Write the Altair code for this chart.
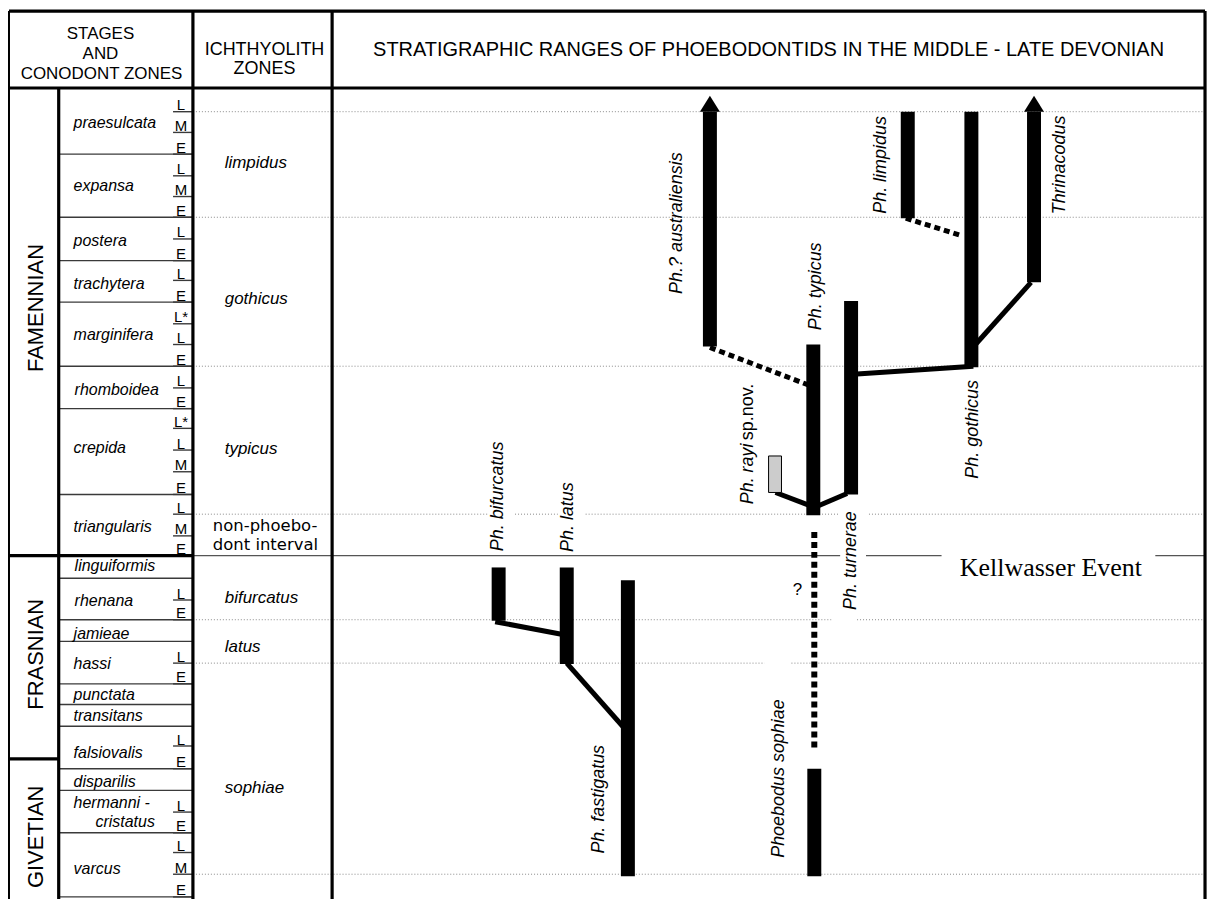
import altair as alt
import pandas as pd

SANS = "Liberation Sans"
SERIF = "Liberation Serif"

# ---------------- scales (stratigraphic level runs downward) ----------------
X_DOMAIN = [4, 1212]
Y_DOMAIN = [3, 905]
W, H = 1204, 892

# ---------------- header ----------------
header_text = ["STAGES", "AND", "CONODONT ZONES", "ICHTHYOLITH", "ZONES"]
header_col = [97, 97, 98, 262, 262]
header_level = [28, 49, 69, 44, 64]
title_text = ["STRATIGRAPHIC RANGES OF PHOEBODONTIDS IN THE MIDDLE - LATE DEVONIAN"]
title_col = [769]
title_level = [44]

# ---------------- stages ----------------
stage_names = ["FAMENNIAN", "FRASNIAN", "GIVETIAN"]
stage_mid = [306, 657, 842]
stage_col = 32

# ---------------- conodont zones ----------------
zone_top = [83, 150, 214, 258, 300, 365, 408, 495, 557, 580, 622, 644, 687, 708,
            730, 773, 795, 838]
zone_bottom_last = 903
zone_label_text = ["praesulcata", "expansa", "postera", "trachytera", "marginifera",
                   "rhomboidea", "crepida", "triangularis", "linguiformis", "rhenana",
                   "jamieae", "hassi", "punctata", "transitans", "falsiovalis",
                   "disparilis", "hermanni -", "cristatus", "varcus"]
zone_label_level = [118, 182, 238, 282, 333, 389, 448, 528, 568, 603, 636, 667, 698,
                    720, 757, 787, 808, 827, 875]
zone_label_col = [70, 70, 70, 70, 70, 71, 70, 70, 71, 71, 70, 70, 70, 70, 70, 70, 70,
                  92, 70]

sub_letter = ["L", "M", "E", "L", "M", "E", "L", "E", "L", "E", "L*", "L", "E", "L",
              "E", "L*", "L", "M", "E", "L", "M", "E", "L", "E", "L", "E", "L", "E",
              "L", "E", "L", "M", "E"]
sub_base = [107, 128, 150, 172, 193, 214, 236, 258, 278, 300, 322, 343, 365, 387,
            408, 428, 450, 472, 495, 515, 537, 557, 602, 622, 666, 687, 750, 773,
            817, 838, 858, 880, 903]

# ---------------- ichthyolith zones ----------------
ich_names = ["limpidus", "gothicus", "typicus", "bifurcatus", "latus", "sophiae"]
ich_level = [159, 297, 449, 600, 650, 793]
nonphoebo_text = ["non-phoebo-", "dont interval"]
nonphoebo_level = [527, 546]
ich_bounds = [107, 214, 365, 515, 622, 666, 880]
ich_gaps = {515: [(488, 514), (557, 585), (840, 870)],
            622: [(832, 858)],
            666: [(765, 792)]}
kellwasser_level = 557
kellwasser_gaps = [(841, 867), (943, 1158)]

# ---------------- taxa ranges ----------------
taxon_col = [710, 814, 852, 973, 909, 1036, 815, 497.5, 566, 627.5]
taxon_top = [107, 343, 299, 107, 107, 107, 773, 569, 569, 582]
taxon_base = [345, 516, 495, 366, 215, 280, 882, 623, 667, 882]
arrow_col = [710, 1036]
arrow_level = [99, 99]

label_text = ["Ph.? australiensis", "Ph. typicus", "Ph. turnerae", "Ph. gothicus",
              "Ph. limpidus", "Thrinacodus", "Phoebodus sophiae", "Ph. bifurcatus",
              "Ph. latus", "Ph. fastigatus"]
label_col = [677, 817, 852, 975, 882, 1062, 780, 497, 567, 598]
label_level = [220, 284, 562, 429, 161, 161, 783, 497, 518, 804]

# Ph. rayi sp. nov. (grey range)
rayi_col = [769, 782]
rayi_level = [456, 493]

# solid links
link_x1 = [1033, 858, 776, 818, 494, 566]
link_y1 = [280, 373, 493, 507, 624, 666]
link_x2 = [978, 975, 810, 848, 562, 624]
link_y2 = [342, 365, 506, 494, 637, 732]
# dotted links
dlink_x1 = [710, 907]
dlink_y1 = [346, 215]
dlink_x2 = [809, 964]
dlink_y2 = [384, 233]
# ghost range of Phoebodus sophiae
ghost_col = [815]
ghost_top = [533]
ghost_base = [755]

# ---------------- frame ----------------
frame_x1 = [5, 5, 1208, 190, 330, 55, 5, 5]
frame_x2 = [1208, 1208, 1208, 190, 330, 55, 190, 55]
frame_y1 = [5, 83, 5, 5, 5, 83, 557, 763]
frame_y2 = [5, 83, 905, 905, 905, 905, 557, 763]


# ---------------- helpers ----------------
def X(f):
    return alt.X(f, type="quantitative", axis=None,
                 scale=alt.Scale(domain=X_DOMAIN, nice=False, zero=False))


def Y(f):
    return alt.Y(f, type="quantitative", axis=None,
                 scale=alt.Scale(domain=Y_DOMAIN, nice=False, zero=False, reverse=True))


def split(start, end, gaps):
    segs, cur = [], start
    for a, b in sorted(gaps):
        segs.append((cur, a))
        cur = b
    segs.append((cur, end))
    return segs


def seg_rule(df, **kw):
    return alt.Chart(df).mark_rule(**kw).encode(
        x=X("x1"), x2="x2", y=Y("y1"), y2="y2")


def text_layer(t, c, l, **kw):
    df = pd.DataFrame(dict(t=t, c=c, l=l))
    return alt.Chart(df).mark_text(color="black", **kw).encode(
        x=X("c"), y=Y("l"), text="t")


layers = []

# dotted ichthyolith boundaries
rows = []
for lv in ich_bounds:
    for a, b in split(190, 1208, ich_gaps.get(lv, [])):
        rows.append(dict(x1=a, x2=b, y1=lv, y2=lv))
layers.append(seg_rule(pd.DataFrame(rows), color="#8a8a8a", strokeWidth=1,
                       strokeDash=[1, 2]))

# Kellwasser line
rows = [dict(x1=a, x2=b, y1=kellwasser_level, y2=kellwasser_level)
        for a, b in split(190, 1208, kellwasser_gaps)]
layers.append(seg_rule(pd.DataFrame(rows), color="#555555", strokeWidth=1.3))

# zone boundaries
zb = [z for z in zone_top[1:] if z != 557] + [zone_bottom_last]
rows = [dict(x1=55, x2=190, y1=v, y2=v) for v in zb]
layers.append(seg_rule(pd.DataFrame(rows), color="#3a3a3a", strokeWidth=1.4))

# subzone separators
rows = [dict(x1=170, x2=190, y1=v, y2=v) for v in sub_base]
layers.append(seg_rule(pd.DataFrame(rows), color="#3a3a3a", strokeWidth=1.4))

# frame
fdf = pd.DataFrame(dict(x1=frame_x1, x2=frame_x2, y1=frame_y1, y2=frame_y2))
layers.append(seg_rule(fdf, color="black", strokeWidth=3.2))
layers.append(seg_rule(pd.DataFrame(dict(x1=[5], x2=[5], y1=[5], y2=[905])),
                       color="black", strokeWidth=2))

# ranges (bars)
tdf = pd.DataFrame(dict(c=taxon_col, t=taxon_top, b=taxon_base))
layers.append(alt.Chart(tdf).mark_rule(color="black", strokeWidth=14, strokeCap="butt")
              .encode(x=X("c"), y=Y("t"), y2="b"))

# arrows
adf = pd.DataFrame(dict(c=arrow_col, l=arrow_level))
layers.append(alt.Chart(adf).mark_point(shape="M-1,0.8L1,0.8L0,-0.8Z", size=400,
                                        filled=True, color="black", opacity=1,
                                        strokeWidth=0)
              .encode(x=X("c"), y=Y("l")))

# solid links
ldf = pd.DataFrame(dict(x1=link_x1, y1=link_y1, x2=link_x2, y2=link_y2))
layers.append(seg_rule(ldf, color="black", strokeWidth=5, strokeCap="butt"))

# dotted links
ddf = pd.DataFrame(dict(x1=dlink_x1, y1=dlink_y1, x2=dlink_x2, y2=dlink_y2))
layers.append(seg_rule(ddf, color="black", strokeWidth=5, strokeDash=[6, 4],
                       strokeCap="butt"))

# ghost range
gdf = pd.DataFrame(dict(c=ghost_col, t=ghost_top, b=ghost_base))
layers.append(alt.Chart(gdf).mark_rule(color="black", strokeWidth=6, strokeDash=[6, 4],
                                       strokeCap="butt")
              .encode(x=X("c"), y=Y("t"), y2="b"))

# rayi grey box
rdf = pd.DataFrame(dict(x1=[rayi_col[0]], x2=[rayi_col[1]], y1=[rayi_level[0]],
                        y2=[rayi_level[1]]))
layers.append(alt.Chart(rdf).mark_rect(fill="#cccccc", stroke="black", strokeWidth=1)
              .encode(x=X("x1"), x2="x2", y=Y("y1"), y2="y2"))

# ---------------- texts ----------------
layers.append(text_layer(header_text[:3], header_col[:3], header_level[:3], font=SANS,
                         fontSize=17, align="center", baseline="middle"))
layers.append(text_layer(header_text[3:], header_col[3:], header_level[3:], font=SANS,
                         fontSize=18, align="center", baseline="middle"))
layers.append(text_layer(title_text, title_col, title_level, font=SANS, fontSize=20,
                         align="center", baseline="middle"))
layers.append(text_layer(stage_names, [stage_col] * 3, stage_mid, font=SANS,
                         fontSize=22, angle=270, align="center", baseline="middle"))
layers.append(text_layer(zone_label_text, zone_label_col, zone_label_level, font=SANS,
                         fontSize=16, fontStyle="italic", align="left",
                         baseline="middle"))
layers.append(text_layer(sub_letter, [178] * len(sub_letter),
                         [v - 1.5 for v in sub_base], font=SANS, fontSize=15,
                         align="center", baseline="alphabetic"))
layers.append(text_layer(ich_names, [222] * len(ich_names), ich_level, font=SANS,
                         fontSize=17, fontStyle="italic", align="left",
                         baseline="middle"))
layers.append(text_layer(nonphoebo_text, [210, 210], nonphoebo_level,
                         font="DejaVu Sans", fontSize=16.5, align="left",
                         baseline="middle"))
layers.append(text_layer(label_text, label_col, label_level, font=SANS, fontSize=18,
                         fontStyle="italic", angle=270, align="center",
                         baseline="middle"))
layers.append(text_layer(["Ph. rayi"], [748], [505], font=SANS, fontSize=18,
                         fontStyle="italic", angle=270, align="left",
                         baseline="middle"))
layers.append(text_layer(["sp.nov."], [748], [440], font=SANS, fontSize=18, angle=270,
                         align="left", baseline="middle"))
layers.append(text_layer(["?"], [798], [592], font=SANS, fontSize=17, align="center",
                         baseline="middle"))
layers.append(text_layer(["Kellwasser Event"], [1053], [570], font=SERIF, fontSize=26,
                         align="center", baseline="middle"))

chart = (alt.layer(*layers)
         .properties(width=W, height=H, padding=0,
                     autosize=alt.AutoSizeParams(type="none"))
         .configure_view(stroke=None))

chart.save("out.html", embed_options={"renderer": "svg", "actions": False})
